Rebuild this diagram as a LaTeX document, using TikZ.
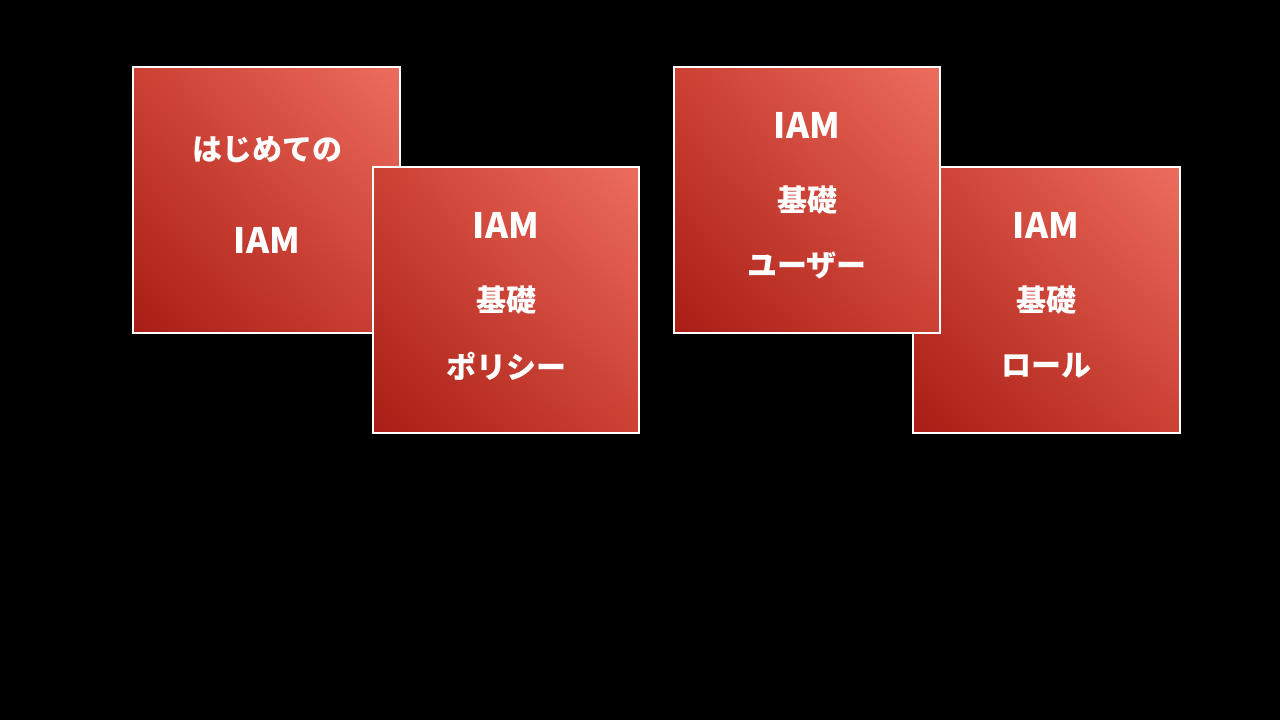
\documentclass[tikz,border=0pt]{standalone}
\usepackage{fontspec}
\usetikzlibrary{shadings}
\newfontfamily\jp{Noto Sans CJK JP}
\definecolor{dk}{HTML}{A81E16}
\definecolor{lt}{HTML}{EC6D5E}
\definecolor{md}{HTML}{CB4134}
\tikzset{
  card/.style={lower left=dk,upper right=lt,lower right=md,upper left=md},
  lbl/.style={text=white,font=\jp\bfseries\fontsize{30}{30}\selectfont,inner sep=0pt},
  big/.style={lbl,font=\jp\bfseries\fontsize{35}{35}\selectfont}
}
\newcommand{\mycard}[5]{%
  \shade[card] (#1,-#2) rectangle (#3,-#4);
  \draw[white,line width=1.2pt] (#1,-#2) rectangle (#3,-#4);
  \coordinate (#5) at ({(#1+#3)/2},0);
}
\begin{document}
\begin{tikzpicture}[x=1pt,y=1pt]
\fill[black] (0,0) rectangle (1280,-720);
\useasboundingbox (0,0) rectangle (1280,-720);
\mycard{133}{67}{400}{333}{c1}
\node[lbl] (t1a) at (267,-150) {はじめての};
\node[big] (t1b) at (267,-240) {IAM};
\mycard{373}{167}{639}{433}{c2}
\node[big] (t2a) at (506,-225) {IAM};
\node[lbl] (t2b) at (506,-300) {基礎};
\node[lbl] (t2c) at (506,-366) {ポリシー};
\mycard{913}{167}{1180}{433}{c4}
\node[big] (t4a) at (1046,-225) {IAM};
\node[lbl] (t4b) at (1046,-300) {基礎};
\node[lbl] (t4c) at (1046,-366) {ロール};
\mycard{674}{67}{940}{333}{c3}
\node[big] (t3a) at (807,-125) {IAM};
\node[lbl] (t3b) at (807,-200) {基礎};
\node[lbl] (t3c) at (807,-266) {ユーザー};
\end{tikzpicture}
\end{document}
